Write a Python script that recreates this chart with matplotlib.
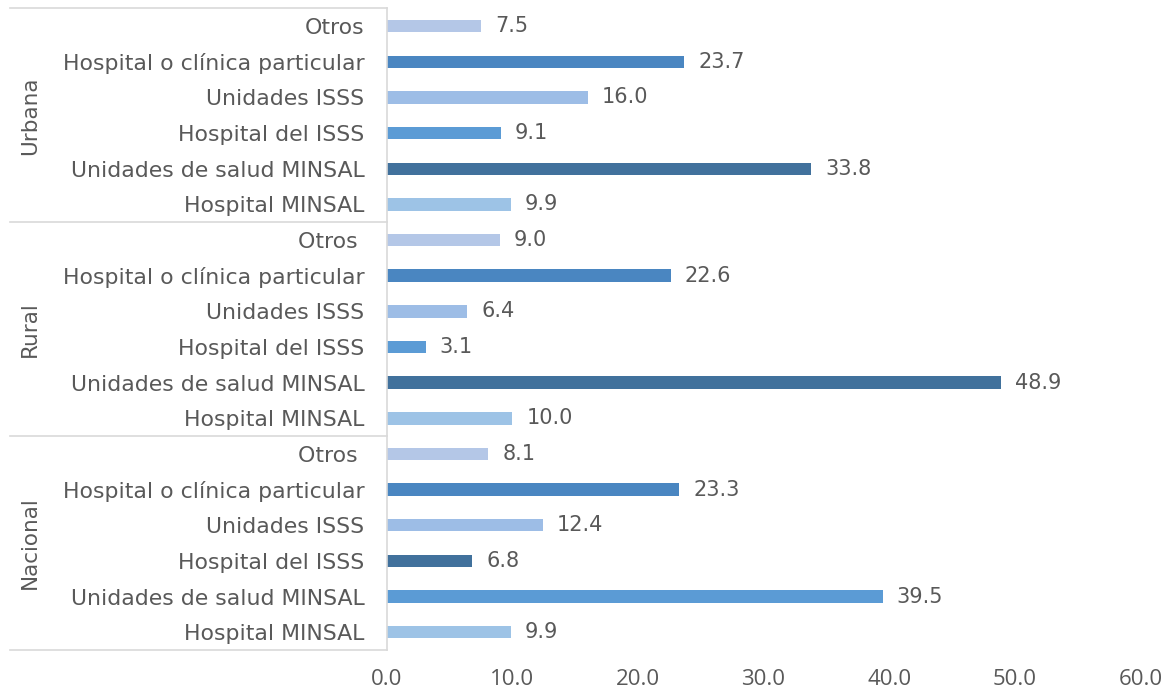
import matplotlib.pyplot as plt
import numpy as np

plt.rcParams["font.family"] = ["DejaVu Sans"]

# rows listed top to bottom inside each group
# (the source has a trailing space on "Otros" in the Rural and Nacional blocks)
categories_urbana = [
    "Otros",
    "Hospital o clínica particular",
    "Unidades ISSS",
    "Hospital del ISSS",
    "Unidades de salud MINSAL",
    "Hospital MINSAL",
]
categories_other = ["Otros\u00a0"] + categories_urbana[1:]
groups = ["Urbana", "Rural", "Nacional"]
urbana = [7.5, 23.7, 16.0, 9.1, 33.8, 9.9]
rural = [9.0, 22.6, 6.4, 3.1, 48.9, 10.0]
nacional = [8.1, 23.3, 12.4, 6.8, 39.5, 9.9]
xticks = [0, 10, 20, 30, 40, 50, 60]

colors_urbana = ["#b4c7e7", "#4a86c1", "#9dbde6", "#5b9bd5", "#41719c", "#9dc3e6"]
colors_rural = ["#b4c7e7", "#4a86c1", "#9dbde6", "#5b9bd5", "#41719c", "#9dc3e6"]
colors_nacional = ["#b4c7e7", "#4a86c1", "#9dbde6", "#41719c", "#5b9bd5", "#9dc3e6"]

values = urbana + rural + nacional
colors = colors_urbana + colors_rural + colors_nacional
labels = categories_urbana + categories_other + categories_other
n = len(values)
y = np.arange(n)[::-1]

text_color = "#595959"
line_color = "#d9d9d9"

fig = plt.figure(figsize=(11.72, 6.94), dpi=100)
ax = fig.add_axes([0.330, 0.0634, 0.643, 0.9246])

ax.barh(y, values, height=0.35, color=colors)
for yi, v in zip(y, values):
    ax.annotate(f"{v:.1f}", (v, yi), xytext=(10, 0), textcoords="offset points",
                va="center", ha="left", fontsize=15, color=text_color)

ax.set_xlim(0, 60)
ax.set_ylim(-0.5, n - 0.5)
ax.set_xticks(xticks)
ax.set_xticklabels([f"{t:.1f}" for t in xticks], family="Open Sans", fontsize=16)
ax.set_yticks(y)
ax.set_yticklabels(labels, fontsize=15.8)
ax.tick_params(axis="both", length=0, colors=text_color)
ax.tick_params(axis="y", pad=16)
ax.tick_params(axis="x", pad=14)

for s in ["top", "right", "bottom"]:
    ax.spines[s].set_visible(False)
ax.spines["left"].set_color(line_color)
ax.spines["left"].set_linewidth(1.2)

# group separators and group labels
trans = ax.get_yaxis_transform()
x_left = -0.5
per = len(categories_urbana)
for k in range(len(groups) + 1):
    yb = n - 0.5 - k * per
    ax.plot([x_left, 0], [yb, yb], transform=trans, color=line_color,
            lw=1.2, clip_on=False)
for k, g in enumerate(groups):
    yc = n - 0.5 - k * per - per / 2
    ax.text(-0.473, yc, g, transform=trans, rotation=90, ha="center",
            va="center", fontsize=15.5, color=text_color)

fig.savefig("out.png", dpi=100)
